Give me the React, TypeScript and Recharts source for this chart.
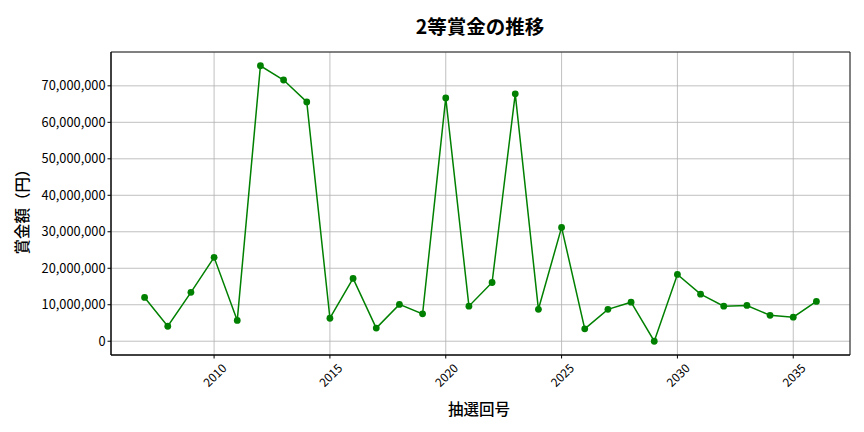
import React from "react";
import {
  LineChart,
  Line,
  XAxis,
  YAxis,
  CartesianGrid,
  ReferenceArea,
} from "recharts";

// 抽選回号 (x) と 2等賞金 (y)
const rounds = [
  2007, 2008, 2009, 2010, 2011, 2012, 2013, 2014, 2015, 2016,
  2017, 2018, 2019, 2020, 2021, 2022, 2023, 2024, 2025, 2026,
  2027, 2028, 2029, 2030, 2031, 2032, 2033, 2034, 2035, 2036,
];
const prizes = [
  12000000, 4100000, 13400000, 23000000, 5700000, 75500000, 71600000, 65600000, 6300000, 17200000,
  3600000, 10100000, 7500000, 66700000, 9600000, 16100000, 67800000, 8750000, 31200000, 3400000,
  8750000, 10700000, 0, 18300000, 12900000, 9600000, 9800000, 7100000, 6600000, 10900000,
];
const xTicks = [2010, 2015, 2020, 2025, 2030, 2035];
const yTicks = [0, 10000000, 20000000, 30000000, 40000000, 50000000, 60000000, 70000000];

const X_DOMAIN: [number, number] = [2005.55, 2037.45];
const Y_DOMAIN: [number, number] = [-3775000, 79275000];

const data = rounds.map((r, i) => ({ round: r, prize: prizes[i] }));

const FONT = '"Noto Sans CJK JP", "Noto Sans", sans-serif';
const fmt = (v: number) => v.toLocaleString("en-US");

const XTick = (props: any) => {
  const { x, payload } = props;
  const cy = 374.5;
  return (
    <text
      x={x}
      y={cy}
      textAnchor="middle"
      dominantBaseline="central"
      fontSize={12}
      fontFamily={FONT}
      fill="#000"
      transform={`rotate(-45, ${x}, ${cy})`}
    >
      {payload.value}
    </text>
  );
};

export default function App() {
  return (
    <div style={{ position: "absolute", left: 0, top: 0, width: 864, height: 432, background: "#fff" }}>
      <LineChart
        width={864}
        height={432}
        data={data}
        margin={{ top: 52, right: 14, bottom: 0, left: 0 }}
      >
        <text x={480} y={25} textAnchor="middle" dominantBaseline="central" fontSize={19.5} fontWeight="bold" fontFamily={FONT} fill="#000">
          2等賞金の推移
        </text>
        <text x={479} y={408} textAnchor="middle" dominantBaseline="central" fontSize={15.5} fontWeight={500} fontFamily={FONT} fill="#000">
          抽選回号
        </text>
        <text x={21} y={208} textAnchor="middle" dominantBaseline="central" fontSize={15.5} fontWeight={500} fontFamily={FONT} fill="#000" transform="rotate(-90, 21, 208)">
          賞金額（円）
        </text>
        <CartesianGrid stroke="#b0b0b0" strokeWidth={0.8} />
        <XAxis
          dataKey="round"
          type="number"
          domain={X_DOMAIN}
          ticks={xTicks}
          allowDataOverflow
          height={77}
          stroke="#000"
          tickLine={{ stroke: "#000" }}
          tickSize={3.5}
          tick={<XTick />}
          interval={0}
        />
        <YAxis
          type="number"
          domain={Y_DOMAIN}
          ticks={yTicks}
          allowDataOverflow
          width={111}
          stroke="#000"
          tickSize={3.5}
          tickFormatter={fmt}
          tick={{ fontSize: 12.8, fontFamily: FONT, fill: "#000" }}
          interval={0}
        />
        <ReferenceArea
          x1={X_DOMAIN[0]}
          x2={X_DOMAIN[1]}
          y1={Y_DOMAIN[0]}
          y2={Y_DOMAIN[1]}
          fill="none"
          stroke="#222"
          strokeWidth={1}
          ifOverflow="visible"
        />
        <Line
          dataKey="prize"
          stroke="#008000"
          strokeWidth={1.5}
          dot={{ r: 3.4, fill: "#008000", stroke: "#008000", strokeWidth: 0 }}
          activeDot={false}
          isAnimationActive={false}
        />
      </LineChart>
    </div>
  );
}
